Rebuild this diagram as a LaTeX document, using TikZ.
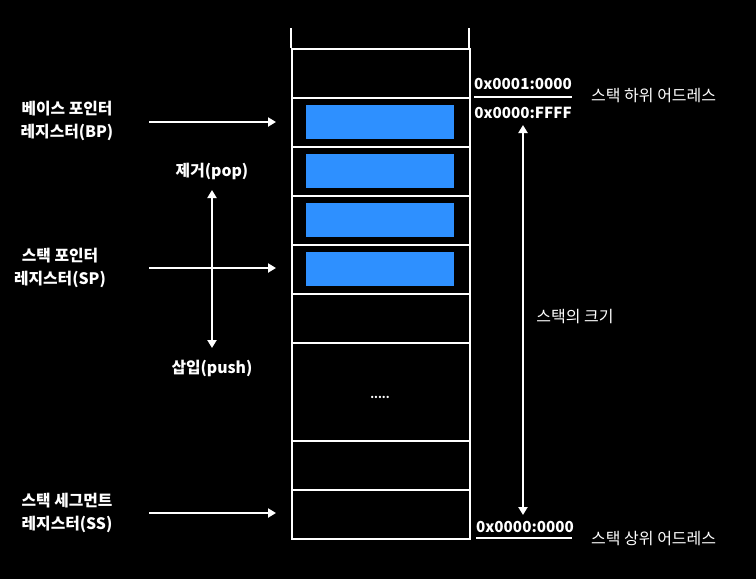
\documentclass[tikz,border=0pt]{standalone}
\usepackage{fontspec}
\setmainfont{Noto Sans CJK KR}
\usetikzlibrary{arrows.meta}
\definecolor{cellblue}{RGB}{46,144,255}
\begin{document}
\begin{tikzpicture}[x=1pt,y=-1pt,
  every node/.style={text=white,inner sep=0pt},
  cell/.style={draw=white,line width=2pt,minimum width=178pt,anchor=north west},
  blk/.style={fill=cellblue,minimum width=148pt,minimum height=34pt,inner sep=0pt},
  arr/.style={draw=white,line width=2pt,-{Triangle[length=8pt,width=9pt]}},
  darr/.style={draw=white,line width=2pt,{Triangle[length=8pt,width=9pt]}-{Triangle[length=8pt,width=9pt]}},
  lbl/.style={font=\fontsize{15.8}{22.5}\selectfont\bfseries,align=center},
  rlbl/.style={font=\fontsize{16}{18}\selectfont},
  hex/.style={font=\fontsize{15.2}{18}\selectfont\bfseries},
  uline/.style={draw=white,line width=2pt}]
\fill[black] (0,0) rectangle (756,579);
\useasboundingbox (0,0) rectangle (756,579);
% open top
\draw[white,line width=2pt] (291,28) -- (291,48) (469,28) -- (469,48);
% cells
\node[cell,minimum height=49pt] (c1) at (291,48) {};
\node[cell,minimum height=49pt] (c2) at (291,97) {};
\node[cell,minimum height=49pt] (c3) at (291,146) {};
\node[cell,minimum height=49pt] (c4) at (291,195) {};
\node[cell,minimum height=49pt] (c5) at (291,244) {};
\node[cell,minimum height=49pt] (c6) at (291,293) {};
\node[cell,minimum height=98pt] (c7) at (291,342) {};
\node[cell,minimum height=49pt] (c8) at (291,440) {};
\node[cell,minimum height=49pt] (c9) at (291,489) {};
% blue blocks
\node[blk] (b2) at (380,122) {};
\node[blk] (b3) at (380,171) {};
\node[blk] (b4) at (380,220) {};
\node[blk] (b5) at (380,269) {};
\node[font=\fontsize{11}{12}\selectfont\bfseries,anchor=base] (dots) at (380,398) {.....};
% left labels
\node[lbl] (bp) at (67,121) {베이스 포인터\\레지스터(BP)};
\node[lbl] (sp) at (60,268) {스택 포인터\\레지스터(SP)};
\node[lbl] (ss) at (67,513) {스택 세그먼트\\레지스터(SS)};
\coordinate (bpS) at (149,122);
\coordinate (spS) at (149,268);
\coordinate (ssS) at (149,513);
\draw[arr,shorten >=15pt] (bpS) -- (bpS -| c2.west);
\draw[arr,shorten >=15pt] (spS) -- (spS -| c5.west);
\draw[arr,shorten >=15pt] (ssS) -- (ssS -| c9.west);
% pop / push
\node[lbl] (pop) at (212,171) {제거(pop)};
\node[lbl] (push) at (212,368) {삽입(push)};
\coordinate (popA) at (212,190);
\coordinate (pushA) at (212,348);
\draw[darr] (pushA) -- (popA);
% right side
\node[hex] (hiA) at (523,84) {0x0001:0000};
\node[hex] (hiB) at (523,113) {0x0000:FFFF};
\draw[uline] (474,97) -- (572,97);
\node[rlbl,anchor=west] (low) at (591,96) {스택 하위 어드레스};
\node[hex] (lo) at (525,527) {0x0000:0000};
\draw[uline] (476,538) -- (572,538);
\node[rlbl,anchor=west] (up) at (591,539) {스택 상위 어드레스};
\coordinate (szT) at (523,125);
\coordinate (szB) at (523,515);
\draw[darr] (szT) -- (szB);
\node[rlbl] (size) at (575,317) {스택의 크기};
\end{tikzpicture}
\end{document}
